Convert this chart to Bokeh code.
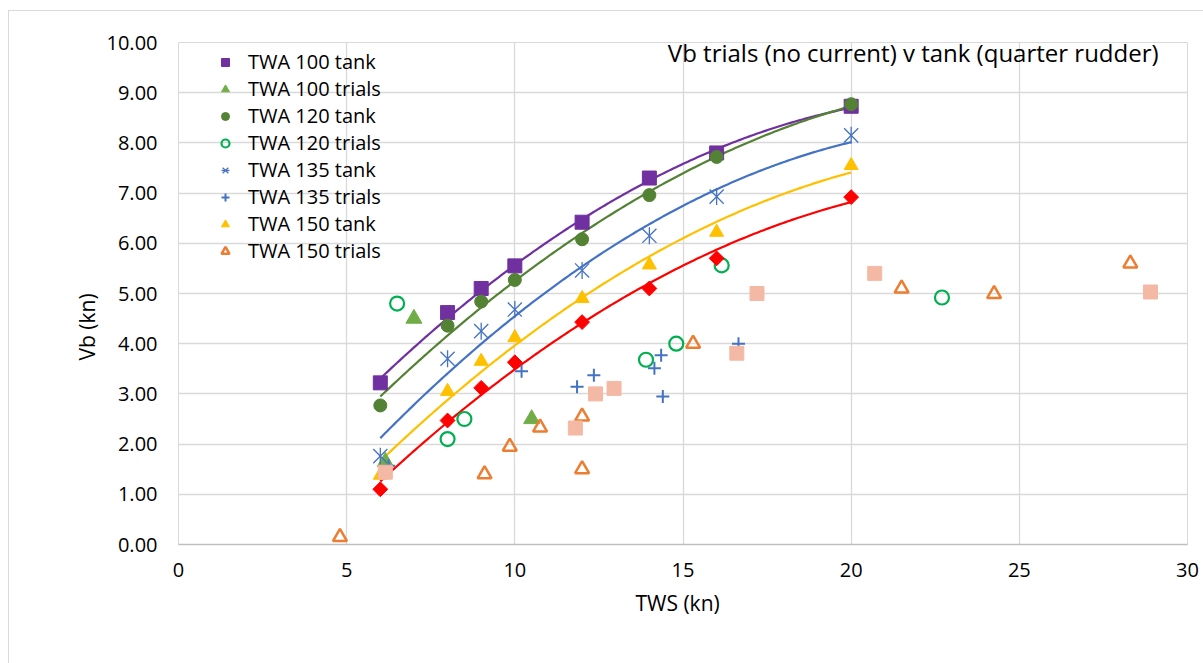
import numpy as np
from bokeh.plotting import figure
from bokeh.models import Range1d, Legend, LegendItem, Label, Title, FixedTicker, NumeralTickFormatter
from bokeh.embed import file_html
from bokeh.resources import INLINE

# ---------------- data ----------------
tank_tws = [6, 8, 9, 10, 12, 14, 16, 20]
twa100_tank = [3.22, 4.62, 5.10, 5.55, 6.42, 7.30, 7.80, 8.73]
twa120_tank = [2.77, 4.36, 4.84, 5.27, 6.08, 6.96, 7.72, 8.77]
twa135_tank = [1.76, 3.70, 4.25, 4.68, 5.46, 6.15, 6.93, 8.15]
twa150_tank = [1.38, 3.05, 3.65, 4.12, 4.90, 5.57, 6.22, 7.55]
twa165_tank = [1.10, 2.47, 3.12, 3.63, 4.43, 5.10, 5.70, 6.92]

twa100_trials_tws = [7.0, 6.15, 10.5]
twa100_trials_vb = [4.50, 1.65, 2.50]

twa120_trials_tws = [6.5, 8.0, 8.5, 13.9, 14.8, 16.15, 22.7]
twa120_trials_vb = [4.80, 2.10, 2.50, 3.68, 4.00, 5.56, 4.92]

twa135_trials_tws = [6.25, 10.2, 11.85, 12.35, 14.15, 14.35, 14.4, 16.65]
twa135_trials_vb = [1.57, 3.45, 3.14, 3.37, 3.51, 3.77, 2.95, 4.00]

twa150_trials_tws = [4.8, 9.1, 9.85, 10.75, 12.0, 12.0, 15.3, 21.5, 24.25, 28.3]
twa150_trials_vb = [0.15, 1.40, 1.95, 2.33, 2.55, 1.50, 4.00, 5.10, 4.99, 5.60]

twa165_trials_tws = [6.15, 11.8, 12.4, 12.95, 16.6, 17.2, 20.7, 28.9]
twa165_trials_vb = [1.44, 2.32, 3.00, 3.11, 3.81, 5.00, 5.40, 5.03]

title_text = "Vb trials (no current) v tank (quarter rudder)"
x_title = "TWS (kn)"
y_title = "Vb (kn)"
FONT = "Open Sans"

# ---------------- figure ----------------
p = figure(width=1195, height=653, output_backend="svg", toolbar_location=None,
           x_range=Range1d(0, 30), y_range=Range1d(0, 10),
           min_border_left=169, min_border_right=17, min_border_top=31, min_border_bottom=120)
p.styles = {"margin-left": "8px", "margin-top": "10px",
            "border-left": "1px solid #d9d9d9", "border-top": "1px solid #d9d9d9"}
p.background_fill_color = "white"
p.border_fill_color = "white"
p.outline_line_color = "#d9d9d9"

p.xaxis.ticker = FixedTicker(ticks=[0, 5, 10, 15, 20, 25, 30])
p.yaxis.ticker = FixedTicker(ticks=list(range(0, 11)))
p.yaxis.formatter = NumeralTickFormatter(format="0.00")
p.xgrid.grid_line_color = "#d9d9d9"
p.ygrid.grid_line_color = "#d9d9d9"
p.xgrid.grid_line_width = 1.3
p.ygrid.grid_line_width = 1.3

for ax in (p.xaxis[0], p.yaxis[0]):
    ax.major_tick_line_color = None
    ax.minor_tick_line_color = None
    ax.major_label_text_font = FONT
    ax.major_label_text_font_size = "20px"
    ax.major_label_text_color = "#000000"
p.xaxis.axis_line_color = "#bfbfbf"
p.xaxis.axis_line_width = 1.3
p.yaxis.axis_line_color = None
p.xaxis.major_label_standoff = 12
p.yaxis.major_label_standoff = 15

# axis titles (side titles so they can be placed like the reference)
p.add_layout(Title(text=x_title, align="left", offset=457, standoff=15,
                   text_font=FONT, text_font_size="21px", text_font_style="normal",
                   text_color="#000000"), "below")
p.add_layout(Title(text=y_title, align="left", offset=184, standoff=6,
                   text_font=FONT, text_font_size="21px", text_font_style="normal",
                   text_color="#000000"), "left")

# ---------------- trendlines ----------------
xs = np.linspace(min(tank_tws), max(tank_tws), 200)
line_specs = [(twa100_tank, "#7030A0"), (twa120_tank, "#548235"), (twa135_tank, "#4472C4"),
              (twa150_tank, "#FFC000"), (twa165_tank, "#FF0000")]
for ys, col in line_specs:
    coef = np.polyfit(tank_tws, ys, 2)
    p.line(xs, np.polyval(coef, xs), line_color=col, line_width=2.2)

# ---------------- markers ----------------
r100t = p.scatter(tank_tws, twa100_tank, marker="square", size=14, fill_color="#7030A0", line_color="#7030A0")
r100r = p.scatter(twa100_trials_tws, twa100_trials_vb, marker="triangle", size=16, fill_color="#70AD47", line_color="#70AD47")
r120t = p.scatter(tank_tws, twa120_tank, marker="circle", size=13, fill_color="#548235", line_color="#548235")
r120r = p.scatter(twa120_trials_tws, twa120_trials_vb, marker="circle", size=14, fill_color=None, line_color="#00B050", line_width=2.2)
r135t_a = p.scatter(tank_tws, twa135_tank, marker="x", size=20, fill_color=None, line_color="#4472C4", line_width=1.3)
r135t_b = p.scatter(tank_tws, twa135_tank, marker="dash", size=17, angle=np.pi / 2, fill_color=None, line_color="#4472C4", line_width=1.3)
r135r = p.scatter(twa135_trials_tws, twa135_trials_vb, marker="cross", size=13, fill_color=None, line_color="#4472C4", line_width=2)
r150t = p.scatter(tank_tws, twa150_tank, marker="triangle", size=14, fill_color="#FFC000", line_color="#FFC000")
r150r = p.scatter(twa150_trials_tws, twa150_trials_vb, marker="triangle", size=14, fill_color=None, line_color="#ED7D31", line_width=2.5)
p.scatter(tank_tws, twa165_tank, marker="square", size=10.5, angle=np.pi / 4, fill_color="#FF0000", line_color="#FF0000")
p.scatter(twa165_trials_tws, twa165_trials_vb, marker="square", size=14, fill_color="#F4B9A5", line_color="#F4B9A5")

legend = Legend(items=[
    LegendItem(label="TWA 100 tank", renderers=[r100t]),
    LegendItem(label="TWA 100 trials", renderers=[r100r]),
    LegendItem(label="TWA 120 tank", renderers=[r120t]),
    LegendItem(label="TWA 120 trials", renderers=[r120r]),
    LegendItem(label="TWA 135 tank", renderers=[r135t_a, r135t_b]),
    LegendItem(label="TWA 135 trials", renderers=[r135r]),
    LegendItem(label="TWA 150 tank", renderers=[r150t]),
    LegendItem(label="TWA 150 trials", renderers=[r150r]),
], location=(37, 280), padding=0, margin=0, spacing=0,
    glyph_height=20, glyph_width=20, label_height=20, label_standoff=13,
    label_text_font=FONT, label_text_font_size="20px", label_text_color="#000000",
    border_line_color=None, background_fill_alpha=0)
p.add_layout(legend, "center")

p.add_layout(Label(x=29.14, y=9.8, text=title_text, text_align="right", text_baseline="middle",
                   text_font=FONT, text_font_size="24px", text_color="#000000"))

open("out.html", "w").write(file_html(p, INLINE))
